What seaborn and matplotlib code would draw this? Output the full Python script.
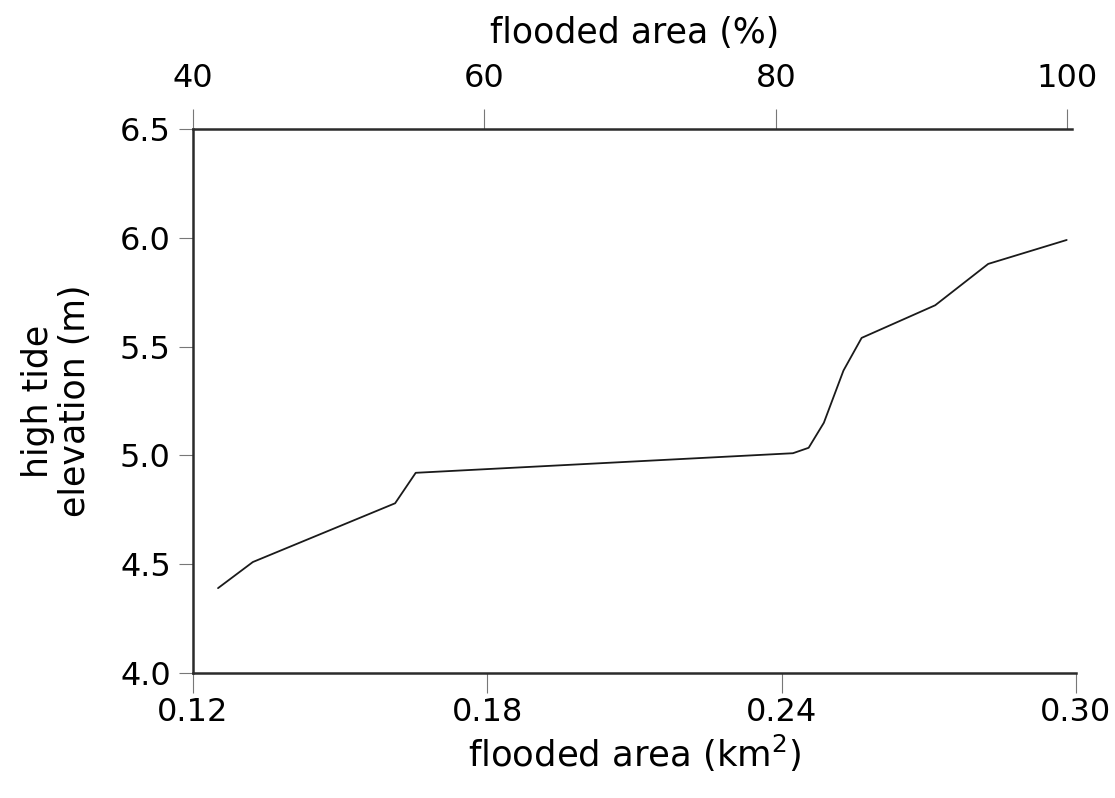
import numpy as np
import pandas as pd
import matplotlib
matplotlib.use("Agg")
import matplotlib.pyplot as plt
import seaborn as sns

# flooded area (km^2) vs high tide elevation (m)
area_km2 = [0.1251, 0.1322, 0.1612, 0.1654, 0.2423, 0.2455, 0.2486,
            0.2526, 0.2563, 0.2713, 0.2821, 0.2981]
tide_m = [4.39, 4.51, 4.78, 4.92, 5.01, 5.035, 5.15,
          5.39, 5.54, 5.69, 5.88, 5.99]

x_ticks = [0.12, 0.18, 0.24, 0.30]
x_ticklabels = ["0.12", "0.18", "0.24", "0.30"]
y_ticks = [4.0, 4.5, 5.0, 5.5, 6.0, 6.5]
pct_ticks = [40, 60, 80, 100]

sns.set_style("white")
plt.rcParams['font.family'] = ['DejaVu Sans']
plt.rcParams['text.color'] = 'black'
plt.rcParams['axes.labelcolor'] = 'black'

df = pd.DataFrame({'area': area_km2, 'tide': tide_m})

fig = plt.figure(figsize=(11.15, 7.98), dpi=100)
ax = fig.add_axes([193 / 1115, 1 - 673 / 798, (1076 - 193) / 1115, 544 / 798])

sns.lineplot(data=df, x='area', y='tide', sort=False, color='#1a1a1a',
             linewidth=1.3, ax=ax)

ax.set_xlim(0.12, 0.30)
ax.set_ylim(4.0, 6.5)
ax.set_xticks(x_ticks)
ax.set_xticklabels(x_ticklabels)
ax.set_yticks(y_ticks)
ax.set_yticklabels([f"{v:.1f}" for v in y_ticks])

tick_kw = dict(direction='out', width=0.8, color='#777777',
               labelsize=23, labelcolor='black')
ax.tick_params(axis='x', length=14.4, pad=3, **tick_kw)
ax.tick_params(axis='y', length=10, pad=6, **tick_kw)
ax.tick_params(left=True, bottom=True)

for side in ['right', 'top']:
    ax.spines[side].set_visible(False)
for side in ['left', 'bottom']:
    ax.spines[side].set_linewidth(1.8)
    ax.spines[side].set_color('#2b2b2b')

ax.set_xlabel('flooded area (km$^2$)', fontsize=25.5, labelpad=3)
ax.set_ylabel('high tide\nelevation (m)', fontsize=25, labelpad=20,
              linespacing=1.1)

# top axis in percent of total area
top = ax.twiny()
top.set_xlim(40, 40 + 60 * (0.18 / 0.1782))
top.set_xticks(pct_ticks)
top.set_xticklabels([str(p) for p in pct_ticks])
top.tick_params(axis='x', length=14.4, pad=11, **tick_kw)
top.tick_params(top=True)
for side in ['left', 'right', 'bottom']:
    top.spines[side].set_visible(False)
top.spines['top'].set_linewidth(1.8)
top.spines['top'].set_color('#2b2b2b')
top.spines['top'].set_bounds(40, 100.3)
top.set_xlabel('flooded area (%)', fontsize=25, labelpad=14)

fig.savefig('out.png', dpi=100)
